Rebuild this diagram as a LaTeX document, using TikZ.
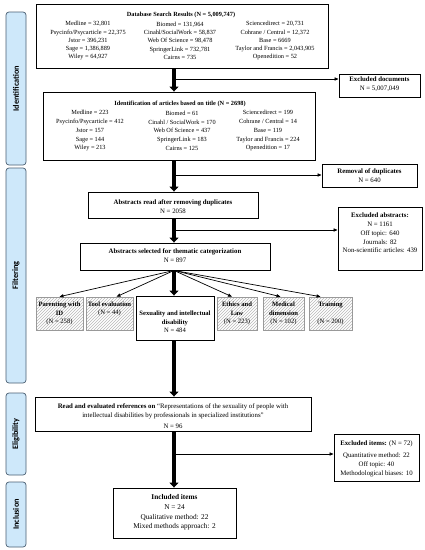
\documentclass[tikz,border=0pt]{standalone}
\usepackage{fontspec}
\setmainfont{Liberation Serif}
\newfontfamily\sidefont{Carlito}
\usetikzlibrary{arrows.meta,patterns,calc}
\definecolor{barblue}{RGB}{206,232,250}
\definecolor{barline}{RGB}{75,95,115}
\begin{document}
\begin{tikzpicture}[x=1pt,y=-1pt,
  box/.style={draw, line width=0.9pt, fill=white, inner sep=0pt},
  catbox/.style={draw=gray!80, line width=0.6pt, pattern=north east lines, pattern color=gray!55, inner sep=0pt},
  txs/.style={font=\fontsize{6.3}{8.25}\selectfont, align=center, inner sep=0pt},
  txm/.style={font=\fontsize{6.8}{9}\selectfont, align=center, inner sep=0pt},
  txc/.style={font=\fontsize{6.6}{8.5}\selectfont, align=center, inner sep=0pt},
  sidebar/.style={draw=barline, fill=barblue, rounded corners=3pt, line width=0.7pt, minimum width=20pt, inner sep=0pt},
  sidelabel/.style={font=\sidefont\bfseries\fontsize{8.3}{9}\selectfont, rotate=90, inner sep=0pt},
  bigarrow/.style={line width=3.5pt, -{Triangle[length=5pt,width=9pt]}},
  smallarrow/.style={line width=0.7pt, -{Triangle[length=4pt,width=3.2pt]}}
]
\useasboundingbox (0,0) rectangle (425,550);
\fill[white] (0,0) rectangle (425,550);

% side bars
\node[sidebar, minimum height=153pt] (sb1) at (16,88.5) {};
\node[sidelabel] (sl1) at (sb1) {Identification};
\node[sidebar, minimum height=215pt] (sb2) at (16,275.5) {};
\node[sidelabel] (sl2) at (sb2) {Filtering};
\node[sidebar, minimum height=82pt] (sb3) at (16,434) {};
\node[sidelabel] (sl3) at (sb3) {Eligibility};
\node[sidebar, minimum height=65pt] (sb4) at (16,514.5) {};
\node[sidelabel] (sl4) at (sb4) {Inclusion};

\coordinate (mx) at (174,0);

% database search box
\node[box, minimum width=292pt, minimum height=64pt] (db) at (182,36) {};
\node[txs, font=\bfseries\fontsize{6.3}{8}\selectfont] (dbT) at (181,15) {Database Search Results (N = 5,009,747)};
\node[txs] (dbA) at (88,40.8) {Medline = 32,801\\Psycinfo/Psycarticle = 22,375\\Jstor = 396,231\\Sage = 1,386,889\\Wiley = 64,927};
\node[txs] (dbB) at (180,40.8) {Biomed = 131,964\\Cinahl/SocialWork = 58,837\\Web Of Science = 98,478\\SpringerLink = 732,781\\Cairns = 735};
\node[txs] (dbC) at (275,40.8) {Sciencedirect = 20,731\\Cohrane / Central = 12,372\\Base = 6669\\Taylor and Francis = 2,043,905\\Openedition = 52};

% excluded documents
\node[box, minimum width=81pt, minimum height=23pt] (exdoc) at (379.5,85.5) {};
\node[txm] (exdocT) at (379.5,84) {\textbf{Excluded documents}\\N = 5,007,049};

% identification box
\node[box, minimum width=272pt, minimum height=68pt] (ti) at (179,126) {};
\node[txs, font=\bfseries\fontsize{6.3}{8}\selectfont] (tiT) at (180,104) {Identification of articles based on title (N = 2698)};
\node[txs, font=\fontsize{6.3}{8.7}\selectfont] (tiA) at (90,130.8) {Medline = 223\\Psycinfo/Psycarticle = 412\\Jstor = 157\\Sage = 144\\Wiley = 213};
\node[txs, font=\fontsize{6.3}{8.7}\selectfont] (tiB) at (182,130.8) {Biomed = 61\\Cinahl / SocialWork = 170\\Web Of Science = 437\\SpringerLink = 183\\Cairns = 125};
\node[txs, font=\fontsize{6.3}{8.7}\selectfont] (tiC) at (268,130.8) {Sciencedirect = 199\\Cohrane / Central = 14\\Base = 119\\Taylor and Francis = 224\\Openedition = 17};

% removal of duplicates
\node[box, minimum width=95pt, minimum height=23pt] (rem) at (369.5,175.5) {};
\node[txm] (remT) at (369.5,176) {\textbf{Removal of duplicates}\\N = 640};

% abstracts read
\node[box, minimum width=170pt, minimum height=26pt] (ab1) at (173,205) {};
\node[txm] (ab1T) at (173,207) {\textbf{Abstracts read after removing duplicates}\\N = 2058};

% excluded abstracts
\node[box, minimum width=84pt, minimum height=63pt] (exab) at (380,238.5) {};
\node[txm, font=\fontsize{6.8}{8.8}\selectfont] (exabT) at (380,233) {\textbf{Excluded abstracts:}\\N = 1161\\Off topic: 640\\Journals: 82\\Non-scientific articles: 439};

% abstracts selected
\node[box, minimum width=190pt, minimum height=27pt] (ab2) at (175,256.5) {};
\node[txm] (ab2T) at (175,256) {\textbf{Abstracts selected for thematic categorization}\\N = 897};

% categories
\node[catbox, minimum width=47pt, minimum height=33pt] (par) at (59.5,313.5) {};
\node[txc] (parT) at (59.5,313.8) {\textbf{Parenting with}\\\textbf{ID}\\(N = 258)};
\node[catbox, minimum width=47pt, minimum height=33pt] (tool) at (109.5,313.5) {};
\node[txc] (toolT) at (109.5,309) {\textbf{Tool evaluation}\\(N = 44)};
\node[box, minimum width=78pt, minimum height=44pt] (sex) at (175,318) {};
\node[txc] (sexT) at (175,322) {\textbf{Sexuality and intellectual}\\\textbf{disability}\\N = 484};
\node[catbox, minimum width=40pt, minimum height=33pt] (eth) at (237,313.5) {};
\node[txc] (ethT) at (237,313.8) {\textbf{Ethics and}\\\textbf{Law}\\(N = 223)};
\node[catbox, minimum width=41pt, minimum height=33pt] (med) at (283.5,313.5) {};
\node[txc] (medT) at (283.5,313.8) {\textbf{Medical}\\\textbf{dimension}\\(N = 102)};
\node[catbox, minimum width=43pt, minimum height=33pt] (tra) at (330.5,313.5) {};
\node[txc] (traT) at (330.5,313.8) {\textbf{Training}\\[8.5pt](N = 200)};

% read and evaluated
\node[box, minimum width=276pt, minimum height=34pt] (rd) at (173,414) {};
\node[txm] (rdT) at (173,416) {\textbf{Read and evaluated references on} “Representations of the sexuality of people with\\intellectual disabilities by professionals in specialized institutions”\\[2pt]N = 96};

% excluded items
\node[box, minimum width=85pt, minimum height=47pt] (exit) at (376.5,457.5) {};
\node[txm] (exitT) at (376.5,458.5) {\textbf{Excluded items:} (N = 72)\\[3pt]Quantitative method: 22\\Off topic: 40\\Methodological biases: 10};

% included items
\node[box, minimum width=123pt, minimum height=50pt] (inc) at (174.5,513) {};
\node[txm, font=\fontsize{7.3}{9.8}\selectfont] (incT) at (174.5,512.5) {\textbf{Included items}\\N = 24\\Qualitative method: 22\\Mixed methods approach: 2};

% connectors
\coordinate (j1) at (174,79);
\coordinate (j2) at (174,175);
\coordinate (j3) at (174,230);
\coordinate (j4) at (174,454);

\draw[smallarrow] (j1) -- (exdoc.west |- j1);
\draw[bigarrow] (db.south -| mx) -- (ti.north -| mx);
\draw[smallarrow] (j2) -- (rem.west |- j2);
\draw[bigarrow] (ti.south -| mx) -- (ab1.north -| mx);
\draw[smallarrow] (j3) -- (exab.west |- j3);
\draw[bigarrow] (ab1.south -| mx) -- (ab2.north -| mx);

\draw[smallarrow] (ab2.south -| mx) -- (par.north);
\draw[smallarrow] (ab2.south -| mx) -- ($(tool.north)+(7,0)$);
\draw[smallarrow] (ab2.south -| mx) -- ($(eth.north)+(-5,0)$);
\draw[smallarrow] (ab2.south -| mx) -- ($(med.north)+(-3,0)$);
\draw[smallarrow] (ab2.south -| mx) -- ($(tra.north)+(-10,0)$);
\draw[bigarrow] (ab2.south -| mx) -- (sex.north -| mx);

\draw[bigarrow] (sex.south -| mx) -- (rd.north -| mx);
\draw[smallarrow] (j4) -- (exit.west |- j4);
\draw[bigarrow] (rd.south -| mx) -- (inc.north -| mx);
\end{tikzpicture}
\end{document}
